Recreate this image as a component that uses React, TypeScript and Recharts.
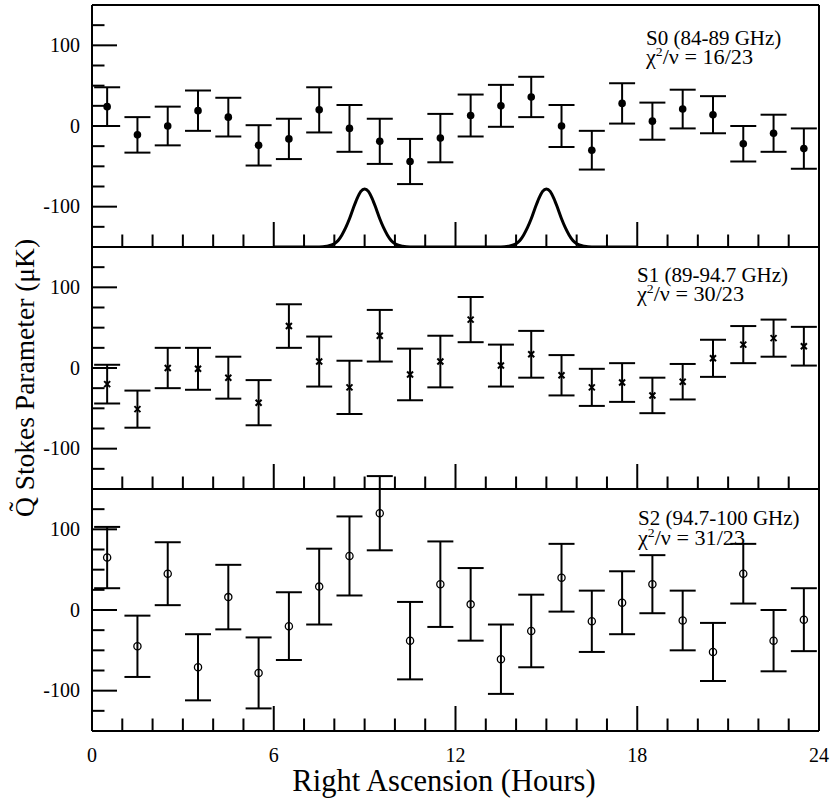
import { ComposedChart, ErrorBar, Line, Scatter, XAxis, YAxis } from "recharts";

// bin centres, hours of right ascension
const RA = [
  0.5, 1.5, 2.5, 3.5, 4.5, 5.5, 6.5, 7.5, 8.5, 9.5, 10.5, 11.5,
  12.5, 13.5, 14.5, 15.5, 16.5, 17.5, 18.5, 19.5, 20.5, 21.5, 22.5, 23.5,
];

// Q stokes per band, uK
const S0_Q = [24, -11, 0, 19, 11, -24, -16, 20, -3, -19, -44, -15, 13, 25, 36, 0, -30, 28, 6, 21, 14, -22, -9, -28];
const S0_ERR = [24, 22, 24, 25, 24, 25, 25, 28, 29, 28, 28, 30, 26, 26, 25, 26, 24, 25, 23, 24, 23, 22, 23, 25];
const S1_Q = [-20, -51, 0, -1, -12, -43, 52, 8, -24, 40, -8, 8, 60, 3, 17, -9, -24, -18, -34, -17, 12, 29, 37, 27];
const S1_ERR = [24, 23, 25, 26, 26, 28, 27, 31, 33, 32, 32, 32, 28, 26, 29, 25, 23, 24, 22, 22, 23, 23, 23, 24];
const S2_Q = [65, -45, 45, -71, 16, -78, -20, 29, 67, 120, -38, 32, 7, -61, -26, 40, -14, 9, 32, -13, -52, 45, -38, -12];
const S2_ERR = [38, 38, 39, 41, 40, 44, 42, 47, 49, 46, 48, 53, 45, 43, 45, 42, 38, 39, 36, 37, 36, 37, 38, 39];

// beam profile drawn in the top panel
const BEAM_RA = [
  6, 7.5, 7.75, 8, 8.125, 8.25, 8.375, 8.5, 8.625, 8.75, 8.875, 9,
  9.125, 9.25, 9.375, 9.5, 9.625, 9.75, 9.875, 10, 10.25, 10.5,
  12, 13.5, 13.75, 14, 14.125, 14.25, 14.375, 14.5, 14.625, 14.75, 14.875, 15,
  15.125, 15.25, 15.375, 15.5, 15.625, 15.75, 15.875, 16, 16.25, 16.5, 18,
];
const BEAM_Q = [
  -150, -150, -149, -146, -142, -135, -126, -115, -102, -90, -81, -78,
  -81, -90, -102, -115, -126, -135, -142, -146, -149, -150,
  -150, -150, -149, -146, -142, -135, -126, -115, -102, -90, -81, -78,
  -81, -90, -102, -115, -126, -135, -142, -146, -149, -150, -150,
];

const X_TICKS = [0, 1, 2, 3, 4, 5, 6, 7, 8, 9, 10, 11, 12, 13, 14, 15, 16, 17, 18, 19, 20, 21, 22, 23, 24];
const Y_TICKS = [-150, -125, -100, -75, -50, -25, 0, 25, 50, 75, 100, 125, 150];

const PANEL_NAMES = ["S0 (84-89 GHz)", "S1 (89-94.7 GHz)", "S2 (94.7-100 GHz)"];
const CHI2 = ["16/23", "30/23", "31/23"];

const FONT = "'Liberation Serif', 'Times New Roman', Times, serif";
const INK = "#000";
const LEFT = 92;
const RIGHT = 819;
const PANEL_H = 242;
const PAD = 16; // svg overhang so caps poking out of a panel still show
const PANEL_TOPS = [5, 247, 489];
const LABEL_POS = [
  { x: 646, y1: 45, y2: 64 },
  { x: 637, y1: 282, y2: 301 },
  { x: 638, y1: 525, y2: 545 },
];

type Row = { ra: number; q: number; err: number };

const rowsOf = (q: number[], err: number[]): Row[] =>
  RA.map((ra, i) => ({ ra, q: q[i], err: err[i] }));

const beamRows = BEAM_RA.map((ra, i) => ({ ra, q: BEAM_Q[i] }));

const serif = { fontFamily: FONT };

function XTick(props: any) {
  const { x, y, payload, dir, labels } = props;
  const v = Number(payload.value);
  const major = v % 6 === 0;
  const len = major ? 25 : 12.5;
  return (
    <g>
      <line x1={x} y1={y} x2={x} y2={y + dir * len} stroke={INK} strokeWidth={2} />
      {labels && major && (
        <text x={x} y={y + 31} textAnchor="middle" fontSize={20} style={serif} fill={INK}>
          {v}
        </text>
      )}
    </g>
  );
}

function YTick(props: any) {
  const { x, y, payload, dir, labels } = props;
  const v = Number(payload.value);
  const major = v % 100 === 0;
  const len = major ? 25 : 12.5;
  return (
    <g>
      <line x1={x} y1={y} x2={x + dir * len} y2={y} stroke={INK} strokeWidth={2} />
      {labels && major && Math.abs(v) < 150 && (
        <text x={x - 12} y={y + 6.5} textAnchor="end" fontSize={20} style={serif} fill={INK}>
          {v}
        </text>
      )}
    </g>
  );
}

const dotShape = (p: any) => <circle cx={p.cx} cy={p.cy} r={3.8} fill={INK} />;
const crossShape = (p: any) => (
  <g stroke={INK} strokeWidth={2}>
    <line x1={p.cx - 3} y1={p.cy - 3} x2={p.cx + 3} y2={p.cy + 3} />
    <line x1={p.cx - 3} y1={p.cy + 3} x2={p.cx + 3} y2={p.cy - 3} />
  </g>
);
const ringShape = (p: any) => (
  <circle cx={p.cx} cy={p.cy} r={3.6} fill="none" stroke={INK} strokeWidth={1.3} />
);

function Panel({
  index,
  rows,
  shape,
  withBeam,
  bottomLabels,
}: {
  index: number;
  rows: Row[];
  shape: (p: any) => any;
  withBeam?: boolean;
  bottomLabels?: boolean;
}) {
  const top = PANEL_TOPS[index] - PAD;
  const bottomMargin = bottomLabels ? 804 - (PANEL_TOPS[index] + PANEL_H) : PAD;
  const height = PAD + PANEL_H + bottomMargin;
  const axisLine = { stroke: INK, strokeWidth: 2 };
  // axes of size 1 so recharts still draws them; margins take the pixel back
  return (
    <div style={{ position: "absolute", left: 0, top }}>
      <ComposedChart
        width={830}
        height={height}
        style={{ overflow: "visible" }}
        margin={{ top: PAD - 1, right: 830 - RIGHT - 1, bottom: bottomMargin - 1, left: LEFT - 60 }}
      >
        <XAxis
          xAxisId="b"
          dataKey="ra"
          type="number"
          domain={[0, 24]}
          ticks={X_TICKS}
          interval={0}
          height={1}
          tickSize={0}
          tickMargin={0}
          tickLine={false}
          axisLine={axisLine}
          tick={(p: any) => <XTick {...p} dir={-1} labels={bottomLabels} />}
        />
        <XAxis
          xAxisId="t"
          orientation="top"
          type="number"
          domain={[0, 24]}
          ticks={X_TICKS}
          interval={0}
          height={1}
          tickSize={0}
          tickMargin={0}
          tickLine={false}
          axisLine={axisLine}
          tick={(p: any) => <XTick {...p} dir={1} labels={false} />}
        />
        <YAxis
          yAxisId="l"
          dataKey="q"
          type="number"
          domain={[-150, 150]}
          allowDataOverflow
          ticks={Y_TICKS}
          interval={0}
          width={60}
          tickSize={0}
          tickMargin={0}
          tickLine={false}
          axisLine={axisLine}
          tick={(p: any) => <YTick {...p} dir={1} labels />}
        />
        <YAxis
          yAxisId="r"
          orientation="right"
          type="number"
          domain={[-150, 150]}
          ticks={Y_TICKS}
          interval={0}
          width={1}
          tickSize={0}
          tickMargin={0}
          tickLine={false}
          axisLine={axisLine}
          tick={(p: any) => <YTick {...p} dir={-1} labels={false} />}
        />
        {withBeam && (
          <Line
            xAxisId="b"
            yAxisId="l"
            data={beamRows}
            dataKey="q"
            type="monotone"
            dot={false}
            stroke={INK}
            strokeWidth={3}
            isAnimationActive={false}
          />
        )}
        <Scatter
          xAxisId="b"
          yAxisId="l"
          data={rows}
          dataKey="q"
          shape={shape}
          isAnimationActive={false}
        >
          <ErrorBar dataKey="err" direction="y" width={13} stroke={INK} strokeWidth={2} />
        </Scatter>
      </ComposedChart>
    </div>
  );
}

export default function App() {
  return (
    <div
      style={{
        position: "absolute",
        left: 0,
        top: 0,
        width: 830,
        height: 804,
        background: "#fff",
        fontFamily: FONT,
        overflow: "hidden",
      }}
    >
      <Panel index={0} rows={rowsOf(S0_Q, S0_ERR)} shape={dotShape} withBeam />
      <Panel index={1} rows={rowsOf(S1_Q, S1_ERR)} shape={crossShape} />
      <Panel index={2} rows={rowsOf(S2_Q, S2_ERR)} shape={ringShape} bottomLabels />
      <svg
        width={830}
        height={804}
        style={{ position: "absolute", left: 0, top: 0, pointerEvents: "none" }}
      >
        {PANEL_NAMES.map((name, i) => (
          <g key={name} fontSize={21} fill={INK} style={serif}>
            <text x={LABEL_POS[i].x} y={LABEL_POS[i].y1}>{name}</text>
            <text
              x={LABEL_POS[i].x}
              y={LABEL_POS[i].y2}
              textLength={107}
              lengthAdjust="spacingAndGlyphs"
            >
              χ<tspan dy={-8} fontSize={13}>2</tspan>
              <tspan dy={8}>/ν = {CHI2[i]}</tspan>
            </text>
          </g>
        ))}
        <text
          x={34}
          y={378}
          transform="rotate(-90 34 378)"
          textAnchor="middle"
          fontSize={27.5}
          fill={INK}
          style={serif}
        >
          Q̃ Stokes Parameter (μK)
        </text>
        <text x={444} y={791} textAnchor="middle" fontSize={30.5} fill={INK} style={serif}>
          Right Ascension (Hours)
        </text>
      </svg>
    </div>
  );
}
